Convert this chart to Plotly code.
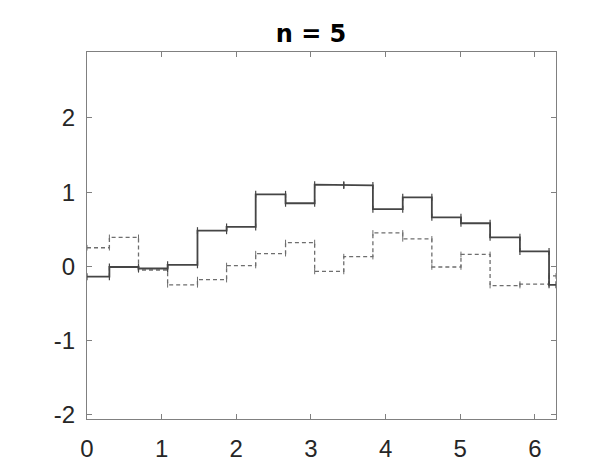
import numpy as np
import plotly.graph_objects as go

# step edges along x, last edge is 2*pi
edges = [0, 0.30, 0.69, 1.08, 1.48, 1.87, 2.26, 2.66, 3.05, 3.44,
         3.83, 4.23, 4.62, 5.01, 5.40, 5.80, 6.19, 2 * np.pi]

# value on each step
solid_vals = [-0.14, -0.01, -0.03, 0.02, 0.48, 0.53, 0.97, 0.85, 1.10,
              1.09, 0.77, 0.93, 0.66, 0.58, 0.39, 0.20, -0.25]
dashed_vals = [0.25, 0.39, -0.05, -0.25, -0.18, 0.01, 0.17, 0.32, -0.07,
               0.13, 0.45, 0.37, -0.01, 0.16, -0.26, -0.24, -0.13]

x_ticks = [0, 1, 2, 3, 4, 5, 6]
y_ticks = [-2, -1, 0, 1, 2]
y_labels = ['-2', '-1', '0', '1', '2']


def step_path(e, v):
    xs, ys = [], []
    for i in range(len(v)):
        xs += [e[i], e[i + 1]]
        ys += [v[i], v[i]]
    return xs, ys


fig = go.Figure()

xs, ys = step_path(edges, dashed_vals)
fig.add_trace(go.Scatter(x=xs, y=ys, mode='lines+markers',
                         line=dict(color='#6e6e6e', width=1.3, dash='4px,3px'),
                         marker=dict(symbol='line-ns', size=4,
                                     line=dict(color='#6e6e6e', width=1)),
                         showlegend=False))

xs, ys = step_path(edges, solid_vals)
fig.add_trace(go.Scatter(x=xs, y=ys, mode='lines+markers',
                         line=dict(color='#454545', width=1.8),
                         marker=dict(symbol='line-ns', size=5,
                                     line=dict(color='#454545', width=1.2)),
                         showlegend=False))

axis_style = dict(showgrid=False, zeroline=False, showline=True, mirror='ticks',
                  linecolor='#808080', linewidth=1, ticks='inside', ticklen=5,
                  tickcolor='#808080',
                  tickfont=dict(family='Liberation Sans, Arial, sans-serif',
                                size=24, color='#262626'))

fig.update_xaxes(range=[0, 2 * np.pi], tickvals=x_ticks, ticklabelstandoff=8,
                 **axis_style)
fig.update_yaxes(range=[-2.06, 2.89], tickvals=y_ticks, ticktext=y_labels,
                 ticklabelstandoff=6, **axis_style)

fig.update_layout(
    width=606, height=466,
    margin=dict(l=79, r=58, t=44, b=52),
    plot_bgcolor='white', paper_bgcolor='white',
    font=dict(family='Liberation Sans, Arial, sans-serif'),
    title=dict(text='<b>n = 5</b>', x=0.5, xanchor='center', y=0.945,
               yanchor='middle',
               font=dict(family='DejaVu Sans', size=24, color='black')),
)

fig.write_html("out.html")
